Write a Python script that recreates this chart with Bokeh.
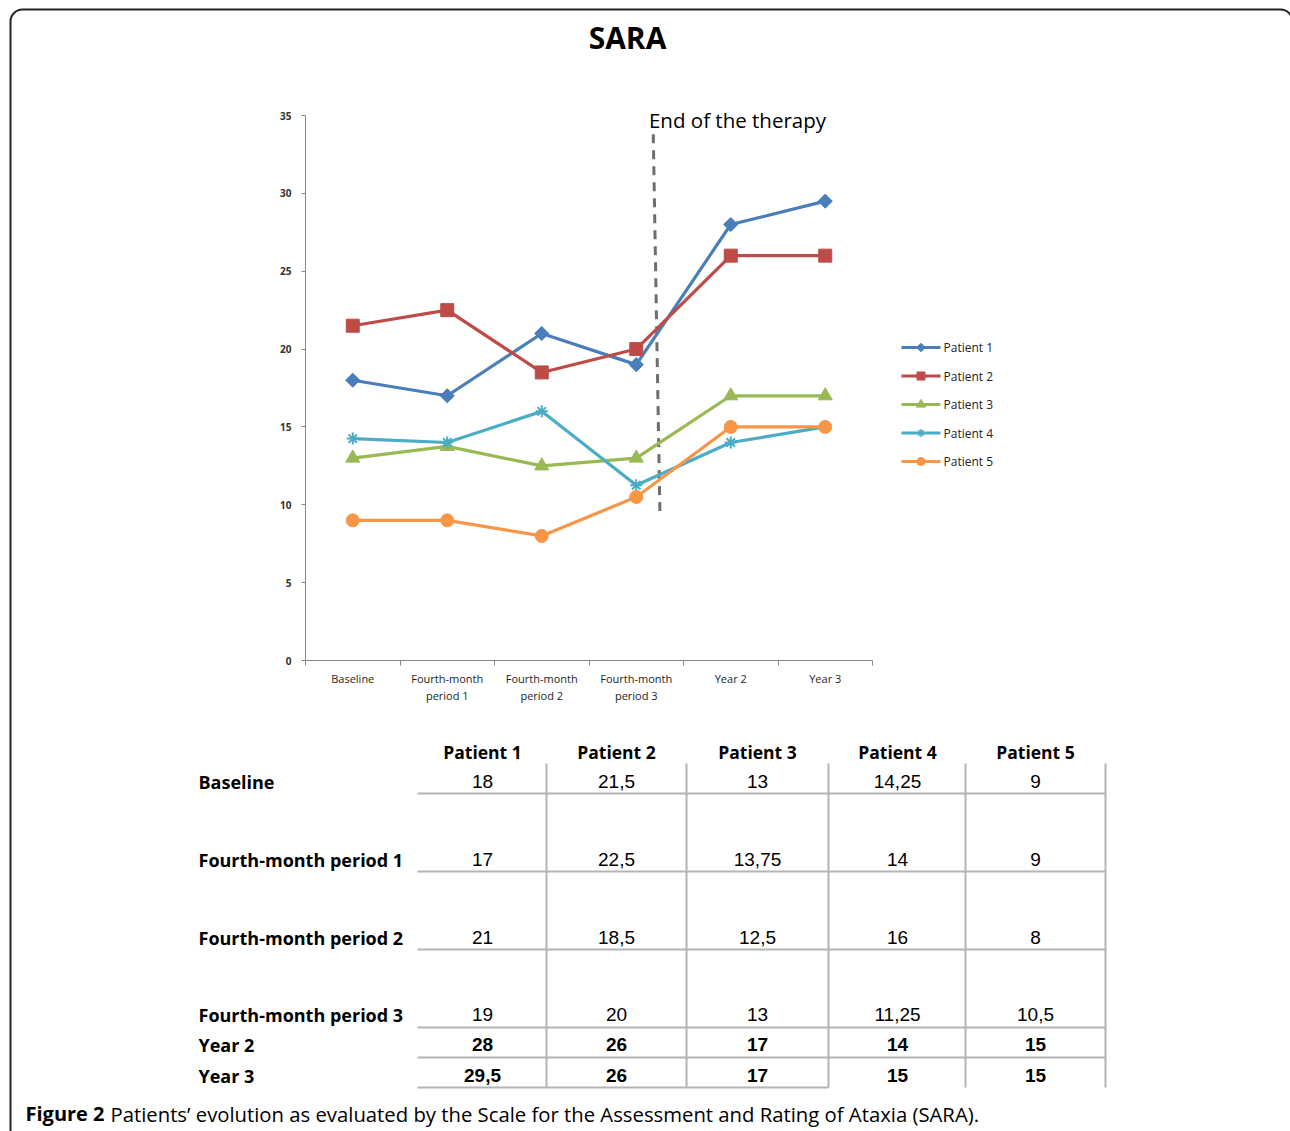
from bokeh.plotting import figure
from bokeh.models import Range1d, LinearAxis, FixedTicker, BoxAnnotation
from bokeh.core.properties import value
from bokeh.embed import file_html
from bokeh.resources import INLINE

# ---------------- data ----------------
periods = ["Baseline", "Fourth-month period 1", "Fourth-month period 2",
           "Fourth-month period 3", "Year 2", "Year 3"]
tick_labels = ["Baseline", "Fourth-month\nperiod 1", "Fourth-month\nperiod 2",
               "Fourth-month\nperiod 3", "Year 2", "Year 3"]
patients = ["Patient 1", "Patient 2", "Patient 3", "Patient 4", "Patient 5"]
patient1 = [18, 17, 21, 19, 28, 29.5]
patient2 = [21.5, 22.5, 18.5, 20, 26, 26]
patient3 = [13, 13.75, 12.5, 13, 17, 17]
patient4 = [14.25, 14, 16, 11.25, 14, 15]
patient5 = [9, 9, 8, 10.5, 15, 15]
series = [patient1, patient2, patient3, patient4, patient5]
y_ticks = [0, 5, 10, 15, 20, 25, 30, 35]
therapy_end_x = [3.18, 3.25]
therapy_end_y = [33.8, 9.6]
title_text = "SARA"
therapy_text = "End of the therapy"
caption_bold = "Figure 2"
caption_text = "Patients\u2019 evolution as evaluated by the Scale for the Assessment and Rating of Ataxia (SARA)."

# ---------------- styles ----------------
colors = ["#4a7ebb", "#be4b48", "#98b954", "#4bacc6", "#f79646"]
markers = ["square", "square", "triangle", "asterisk", "circle"]
angles = [0.785398, 0, 0, 0, 0]
msizes = [10, 13, 14, 12, 13]
lsizes = [6, 8, 9, 8, 8]
FONT = "Open Sans"

# ---------------- layout ----------------
W, H = 1290, 1131
OX, OY = 0, 0
PL, PR, PT, PB = 305, 872, 115, 660
N = len(periods)
slot = (PR - PL) / N
YMAX = 35.0


def xcat(sx):
    return (sx - PL) / slot - 0.5


def yval(sy):
    return (PB - sy) / (PB - PT) * YMAX


p = figure(width=W, height=H,
           x_range=Range1d(OX, OX + W), y_range=Range1d(OY + H, OY),
           x_axis_type=None, y_axis_type=None,
           toolbar_location=None, output_backend="svg",
           min_border=0, outline_line_color=None,
           background_fill_color="white", border_fill_color="white")
p.extra_x_ranges = {"cat": Range1d(xcat(OX), xcat(OX + W))}
p.extra_y_ranges = {"val": Range1d(yval(OY + H), yval(OY))}

# frame border
p.add_layout(BoxAnnotation(left=10, right=1292, top=9, bottom=1160,
                           border_radius=12, line_color="#222222",
                           line_width=2, fill_alpha=0, fill_color=None,
                           line_alpha=1))

# title
p.text(x=[627], y=[37], text=[title_text], text_font=value(FONT),
       text_font_size="30px", text_font_style="bold", text_align="center",
       text_baseline="middle", text_color="black")

# axes
yax = LinearAxis(y_range_name="val", fixed_location=PL, bounds=(0, 35),
                 ticker=FixedTicker(ticks=y_ticks),
                 axis_line_color="#868686", axis_line_width=1,
                 major_tick_line_color="#868686", major_tick_out=4,
                 major_tick_in=0, minor_tick_out=0, minor_tick_in=0,
                 major_label_standoff=10,
                 major_label_text_font=FONT, major_label_text_font_size="10px",
                 major_label_text_color="#333333",
                 major_label_text_font_style="bold")
p.add_layout(yax, "left")

xax = LinearAxis(x_range_name="cat", fixed_location=PB, bounds=(-0.5, N - 0.5),
                 ticker=FixedTicker(ticks=list(range(N)),
                                    minor_ticks=[i - 0.5 for i in range(N + 1)]),
                 major_label_overrides={i: lab for i, lab in enumerate(tick_labels)},
                 axis_line_color="#868686", axis_line_width=1,
                 major_tick_out=0, major_tick_in=0,
                 minor_tick_out=5, minor_tick_in=0,
                 minor_tick_line_color="#868686",
                 major_label_standoff=5,
                 major_label_text_font=FONT, major_label_text_font_size="11px",
                 major_label_text_color="#1e1e1e",
                 major_label_text_line_height=1.15)
p.add_layout(xax, "below")

# therapy marker
p.line(x=therapy_end_x, y=therapy_end_y, x_range_name="cat", y_range_name="val",
       line_color="#6e6e6e", line_width=3, line_dash="9 7")
p.text(x=[737], y=[119], text=[therapy_text], text_font=value(FONT),
       text_font_size="20.5px", text_align="center", text_baseline="middle",
       text_color="black")

# series
xs = list(range(N))
for vals, c, m, a, s in zip(series, colors, markers, angles, msizes):
    p.line(x=xs, y=vals, x_range_name="cat", y_range_name="val",
           line_color=c, line_width=3.2)
    p.scatter(x=xs, y=vals, x_range_name="cat", y_range_name="val",
              marker=m, angle=a, size=s, fill_color=c, line_color=c,
              line_width=2 if m == "asterisk" else 1)

# legend (manual)
for i, (name, c, m, a, s) in enumerate(zip(patients, colors, markers, angles, lsizes)):
    ly = 347 + i * 28.5
    p.segment(x0=[901], y0=[ly], x1=[940], y1=[ly], line_color=c, line_width=3.2)
    p.scatter(x=[920.5], y=[ly], marker=m, angle=a, size=s, fill_color=c,
              line_color=c, line_width=1.5 if m == "asterisk" else 1)
    p.text(x=[943], y=[ly], text=[name], text_font=value(FONT),
           text_font_size="12px", text_align="left", text_baseline="middle",
           text_color="#222222")

# ---------------- table ----------------
col_x = [482, 616, 757, 897, 1035]
row_y = [781, 859, 937, 1014, 1044, 1075]
head_y = 751
label_x = 198


def fmt(v):
    s = ("%g" % v)
    return s.replace(".", ",")


p.text(x=col_x, y=[head_y] * len(col_x), text=patients, text_font=value(FONT),
       text_font_size="17.5px", text_font_style="bold", text_align="center",
       text_baseline="middle", text_color="black")
p.text(x=[label_x] * N, y=row_y, text=periods, text_font=value(FONT),
       text_font_size="18px", text_font_style="bold", text_align="left",
       text_baseline="middle", text_color="black")

for r in range(N):
    bold = r >= 4
    p.text(x=col_x, y=[row_y[r]] * len(col_x),
           text=[fmt(sv[r]) for sv in series],
           text_font=value("Liberation Sans"), text_font_size="19px",
           text_font_style="bold" if bold else "normal", text_align="center",
           text_baseline="middle", text_color="black")

grid_col = "#b4b4b4"
vx = [546, 686, 828, 965, 1105]
p.segment(x0=vx, y0=[763] * len(vx), x1=vx, y1=[1087] * len(vx),
          line_color=grid_col, line_width=2)
hy = [793, 871, 949, 1027, 1057]
p.segment(x0=[417] * len(hy), y0=hy, x1=[1105] * len(hy), y1=hy,
          line_color=grid_col, line_width=2)
p.segment(x0=[417], y0=[1087], x1=[828], y1=[1087],
          line_color=grid_col, line_width=2)

# caption
p.text(x=[25], y=[1113], text=[caption_bold], text_font=value(FONT),
       text_font_size="20px", text_font_style="bold", text_align="left",
       text_baseline="middle", text_color="black")
p.text(x=[110], y=[1113], text=[caption_text], text_font=value(FONT),
       text_font_size="20.3px", text_align="left",
       text_baseline="middle", text_color="black")

open("out.html", "w").write(file_html(p, INLINE))
